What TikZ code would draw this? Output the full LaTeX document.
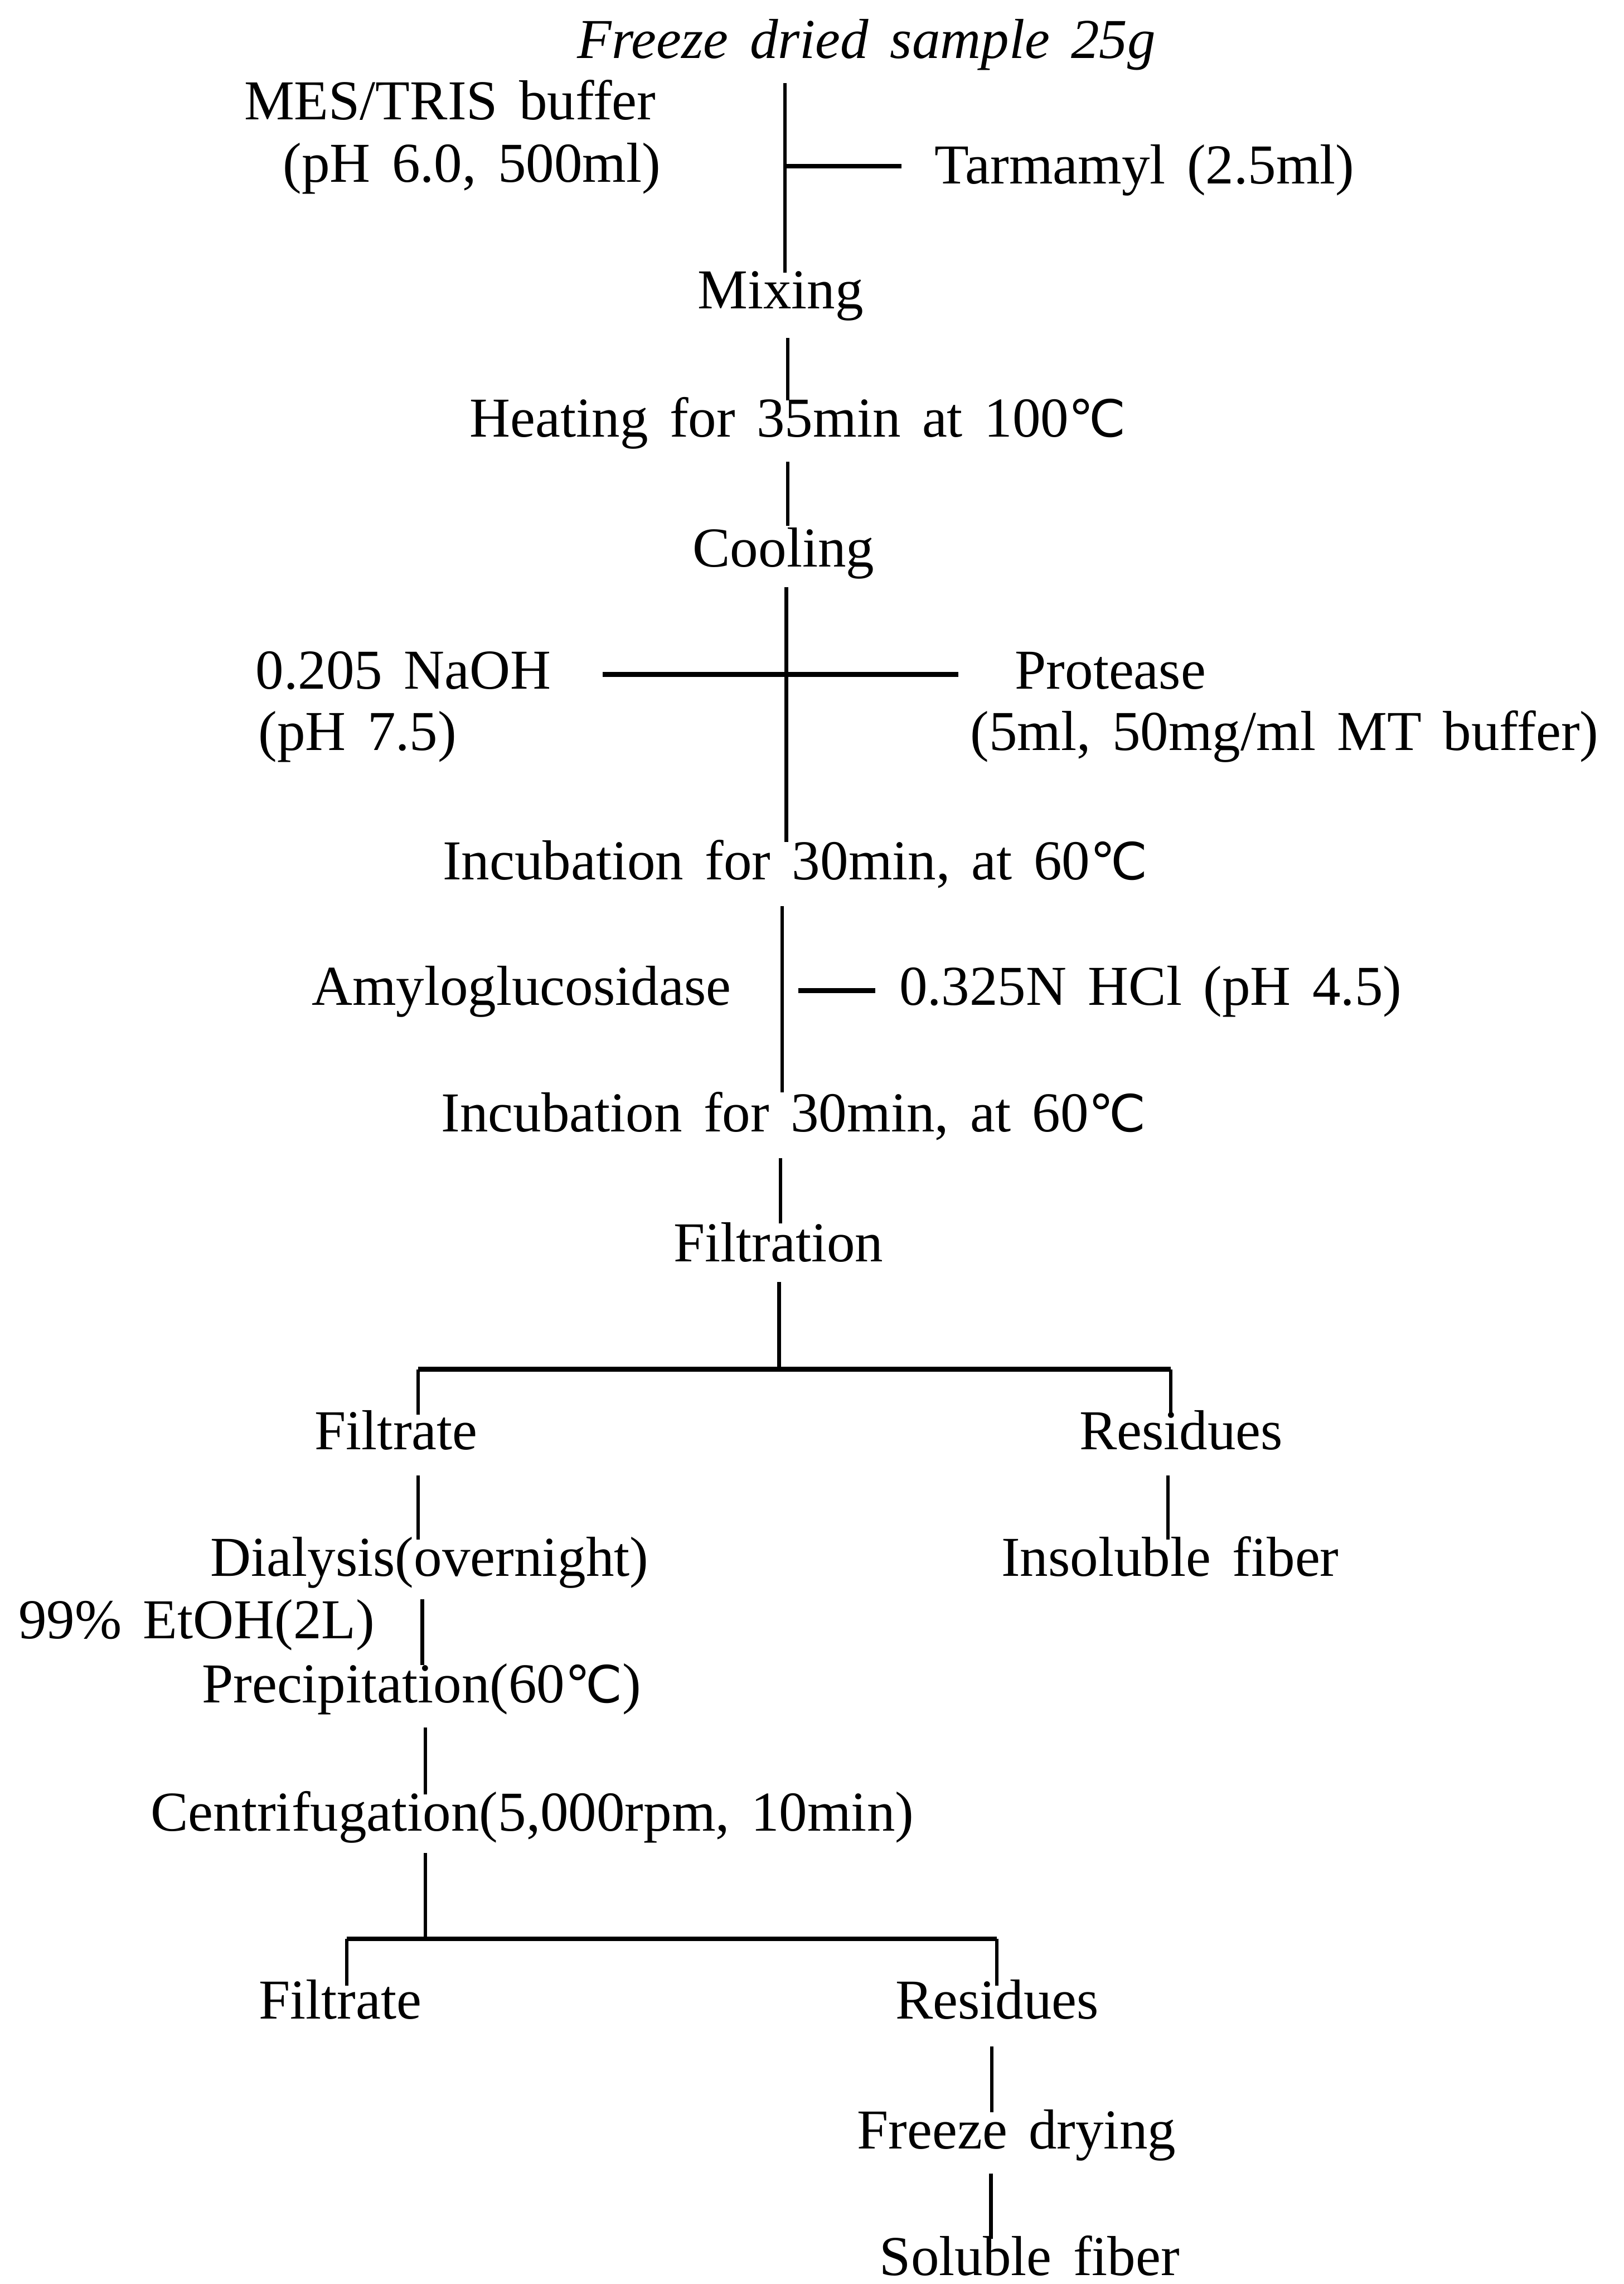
\documentclass[tikz,border=0pt]{standalone}
\usepackage{fontspec}
\setmainfont{Liberation Serif}
\newfontfamily\djv{DejaVu Sans}
\newcommand\dC{{\djv\fontsize{10}{12}\selectfont ℃}}
\newcommand\lblfont{\fontsize{11}{13}\selectfont\spaceskip=0.38em plus 0.1em minus 0.1em\relax}
\begin{document}
\begin{tikzpicture}[x=0.01cm,y=-0.01cm,
  lbl/.style={anchor=base,inner sep=0pt,font=\lblfont},
  ttl/.style={lbl,font=\lblfont\itshape},
  vl/.style={line width=0.7pt},
  hl/.style={line width=0.9pt}]
\useasboundingbox (0,0) rectangle (1115,1568);
% texts
\node[ttl] (title) at (595,40) {Freeze dried sample 25g};
\node[lbl] (mes) at (309,82) {MES/TRIS buffer};
\node[lbl] (mesph) at (324,125) {(pH 6.0, 500ml)};
\node[lbl] (tarm) at (786,126) {Tarmamyl (2.5ml)};
\node[lbl] (mix) at (536,212) {Mixing};
\node[lbl] (heat) at (548,300) {Heating for 35min at 100\dC};
\node[lbl] (cool) at (538,389) {Cooling};
\node[lbl] (naoh) at (277,473) {0.205 NaOH};
\node[lbl] (naohph) at (245.5,515) {(pH 7.5)};
\node[lbl] (prot) at (762.5,473) {Protease};
\node[lbl] (protb) at (882,515) {(5ml, 50mg/ml MT buffer)};
\node[lbl] (inc1) at (546,604) {Incubation for 30min, at 60\dC};
\node[lbl] (amy) at (358,690) {Amyloglucosidase};
\node[lbl] (hcl) at (790,690) {0.325N HCl (pH 4.5)};
\node[lbl] (inc2) at (545,777) {Incubation for 30min, at 60\dC};
\node[lbl] (filt) at (534.5,866) {Filtration};
\node[lbl] (fil1) at (272,995) {Filtrate};
\node[lbl] (res1) at (811,995) {Residues};
\node[lbl] (dial) at (295,1082) {Dialysis(overnight)};
\node[lbl] (insol) at (803.5,1082) {Insoluble fiber};
\node[lbl] (etoh) at (135,1125) {99\% EtOH(2L)};
\node[lbl] (prec) at (289.5,1169) {Precipitation(60\dC)};
\node[lbl] (cent) at (365.5,1257) {Centrifugation(5,000rpm, 10min)};
\node[lbl] (fil2) at (233.6,1386) {Filtrate};
\node[lbl] (res2) at (684.7,1386) {Residues};
\node[lbl] (fd) at (698,1475) {Freeze drying};
\node[lbl] (sol) at (707,1562) {Soluble fiber};
% connector end points
\coordinate (title-b) at (539,57);
\coordinate (mix-t) at (539,187);
\coordinate (tarm-j) at (539,114);
\coordinate (tarm-e) at (619,114);
\coordinate (mix-b) at (541,232);
\coordinate (heat-t) at (541,275);
\coordinate (heat-b) at (541,317);
\coordinate (cool-t) at (541,361);
\coordinate (cool-b) at (540,403);
\coordinate (inc1-t) at (540,578);
\coordinate (naoh-e) at (414,463);
\coordinate (prot-e) at (658,463);
\coordinate (inc1-b) at (537,622);
\coordinate (inc2-t) at (537,750);
\coordinate (hcl-s) at (548,680);
\coordinate (hcl-e) at (601,680);
\coordinate (inc2-b) at (536,795);
\coordinate (filt-t) at (536,840);
\coordinate (filt-b) at (535,880);
\coordinate (br1) at (535,940);
\coordinate (br1-l) at (287,940);
\coordinate (br1-r) at (804,940);
\coordinate (fil1-t) at (287,971);
\coordinate (res1-t) at (804,971);
\coordinate (fil1-b) at (287,1013);
\coordinate (dial-t) at (287,1057);
\coordinate (res1-b) at (802,1013);
\coordinate (insol-t) at (802,1057);
\coordinate (dial-b) at (290,1098);
\coordinate (prec-t) at (290,1143);
\coordinate (prec-b) at (292,1186);
\coordinate (cent-t) at (292,1232);
\coordinate (cent-b) at (292,1272);
\coordinate (br2) at (292,1331);
\coordinate (br2-l) at (238,1331);
\coordinate (br2-r) at (684.5,1331);
\coordinate (fil2-t) at (238,1363);
\coordinate (res2-t) at (684.5,1363);
\coordinate (res2-b) at (681,1405);
\coordinate (fd-t) at (681,1450);
\coordinate (fd-b) at (680.5,1492);
\coordinate (sol-t) at (680.5,1537);
% connectors
\draw[vl] (title-b) -- (mix-t);
\draw[hl] (tarm-j) -- (tarm-e);
\draw[vl] (mix-b) -- (heat-t);
\draw[vl] (heat-b) -- (cool-t);
\draw[vl] (cool-b) -- (inc1-t);
\draw[hl] (naoh-e) -- (prot-e);
\draw[vl] (inc1-b) -- (inc2-t);
\draw[hl] (hcl-s) -- (hcl-e);
\draw[vl] (inc2-b) -- (filt-t);
\draw[vl] (filt-b) -- (br1);
\draw[hl] (br1-l) -- (br1-r);
\draw[vl] (br1-l) -- (fil1-t);
\draw[vl] (br1-r) -- (res1-t);
\draw[vl] (fil1-b) -- (dial-t);
\draw[vl] (res1-b) -- (insol-t);
\draw[vl] (dial-b) -- (prec-t);
\draw[vl] (prec-b) -- (cent-t);
\draw[vl] (cent-b) -- (br2);
\draw[hl] (br2-l) -- (br2-r);
\draw[vl] (br2-l) -- (fil2-t);
\draw[vl] (br2-r) -- (res2-t);
\draw[vl] (res2-b) -- (fd-t);
\draw[vl] (fd-b) -- (sol-t);
\end{tikzpicture}
\end{document}
